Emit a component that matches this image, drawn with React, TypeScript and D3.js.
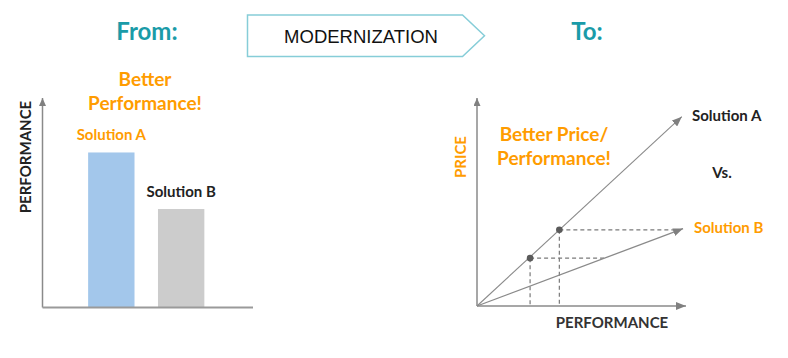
import React from "react";
import * as d3 from "d3";

// ---------- data ----------
const barCategories = ["Solution A", "Solution B"];
const barValues = [74, 47];
const barColors = ["#a3c7eb", "#cccccc"];
const barLabelColors = ["#ff9c00", "#222222"];

const lineA = [
  { perf: 0, price: 0 },
  { perf: 98, price: 91 },
];
const lineB = [
  { perf: 0, price: 0 },
  { perf: 98.6, price: 37.2 },
];
const markPoints = [
  { perf: 25.4, price: 23, reachB: 61 },
  { perf: 39.4, price: 36.6, reachB: 97 },
];

const ORANGE = "#ff9c00";
const TEAL = "#1a9ba8";
const DARK = "#222222";
const LATO = "Lato, 'Noto Sans', sans-serif";

export default function App() {
  // left bar chart
  const lx0 = 42.5, lx1 = 253, ly0 = 307.5, lyTop = 98;
  const xBand = d3
    .scaleBand<string>()
    .domain(barCategories)
    .range([lx0, lx1])
    .paddingInner(0.336)
    .paddingOuter(0.675)
    .align(0.484);
  const yBar = d3.scaleLinear().domain([0, 100]).range([ly0, lyTop]);

  // right line chart
  const rx = d3.scaleLinear().domain([0, 100]).range([477, 686]);
  const ry = d3.scaleLinear().domain([0, 100]).range([306, 98]);
  const line = d3
    .line<{ perf: number; price: number }>()
    .x((d) => rx(d.perf))
    .y((d) => ry(d.price));

  return (
    <svg
      width={788}
      height={358}
      style={{ position: "absolute", left: 0, top: 0, background: "#fff" }}
    >
      <defs>
        <marker
          id="arr"
          markerUnits="userSpaceOnUse"
          markerWidth={11}
          markerHeight={8}
          refX={10}
          refY={4}
          orient="auto"
        >
          <path d="M0,0 L10,4 L0,8 Z" fill="#808080" />
        </marker>
        <marker
          id="arrSmall"
          markerUnits="userSpaceOnUse"
          markerWidth={9}
          markerHeight={7}
          refX={8}
          refY={3.5}
          orient="auto"
        >
          <path d="M0,0 L8,3.5 L0,7 Z" fill="#808080" />
        </marker>
      </defs>

      {/* Titles */}
      <text x={147} y={40} textAnchor="middle" fontFamily={LATO} fontWeight={700} fontSize={24} fill={TEAL}>
        From:
      </text>
      <text x={587} y={40} textAnchor="middle" fontFamily={LATO} fontWeight={700} fontSize={24} fill={TEAL}>
        To:
      </text>

      {/* Modernization arrow box */}
      <path
        d="M247.5,15 L462.5,15 L484.5,35.8 L462.5,56.5 L247.5,56.5 Z"
        fill="#fff"
        stroke="#86cdd8"
        strokeWidth={1.5}
      />
      <text
        x={361}
        y={42.5}
        textAnchor="middle"
        fontFamily="'Liberation Sans', Arial, sans-serif"
        fontSize={18.5}
        fill="#111"
      >
        MODERNIZATION
      </text>

      {/* ---------- Left chart ---------- */}
      <text textAnchor="middle" fontFamily={LATO} fontWeight={700} fontSize={19} fill={ORANGE}>
        <tspan x={145} y={86}>Better</tspan>
        <tspan x={145} y={110}>Performance!</tspan>
      </text>

      {barCategories.map((c, i) => (
        <g key={c}>
          <rect
            x={xBand(c)}
            y={yBar(barValues[i])}
            width={xBand.bandwidth()}
            height={ly0 - yBar(barValues[i])}
            fill={barColors[i]}
          />
          <text
            x={(xBand(c) as number) + xBand.bandwidth() / 2}
            y={yBar(barValues[i]) - 12}
            textAnchor="middle"
            fontFamily={LATO}
            fontWeight={700}
            fontSize={15}
            fill={barLabelColors[i]}
          >
            {c}
          </text>
        </g>
      ))}

      <line x1={lx0} y1={ly0} x2={lx0} y2={lyTop} stroke="#8a8a8a" strokeWidth={1.5} markerEnd="url(#arrSmall)" />
      <line x1={lx0} y1={ly0} x2={lx1} y2={ly0} stroke="#9a9a9a" strokeWidth={1.8} />
      <text
        transform={`translate(31,157) rotate(-90)`}
        textAnchor="middle"
        fontFamily={LATO}
        fontWeight={700}
        fontSize={15}
        fill={DARK}
      >
        PERFORMANCE
      </text>

      {/* ---------- Right chart ---------- */}
      <text textAnchor="middle" fontFamily={LATO} fontWeight={700} fontSize={19} fill={ORANGE}>
        <tspan x={554} y={141}>Better Price/</tspan>
        <tspan x={554} y={165}>Performance!</tspan>
      </text>
      <text
        transform={`translate(465.5,157) rotate(-90)`}
        textAnchor="middle"
        fontFamily={LATO}
        fontWeight={700}
        fontSize={15}
        fill={ORANGE}
      >
        PRICE
      </text>
      <text x={612} y={328} textAnchor="middle" fontFamily={LATO} fontWeight={700} fontSize={15} fill="#333">
        PERFORMANCE
      </text>

      {/* dashed guides */}
      {markPoints.map((p, i) => (
        <g key={"d" + i} stroke="#7a7a7a" strokeWidth={1.2} strokeDasharray="4,3" fill="none">
          <line x1={rx(p.perf)} y1={ry(p.price)} x2={rx(p.perf)} y2={ry(0)} />
          <line x1={rx(p.perf)} y1={ry(p.price)} x2={rx(p.reachB)} y2={ry(p.price)} />
        </g>
      ))}

      {/* axes */}
      <line x1={rx(0)} y1={ry(0)} x2={rx(0)} y2={ry(100)} stroke="#8a8a8a" strokeWidth={1.5} markerEnd="url(#arrSmall)" />
      <line x1={rx(0)} y1={ry(0)} x2={rx(100)} y2={ry(0)} stroke="#8a8a8a" strokeWidth={1.5} markerEnd="url(#arr)" />

      {/* solution lines */}
      <path d={line(lineA) as string} stroke="#8a8a8a" strokeWidth={1.1} fill="none" markerEnd="url(#arr)" />
      <path d={line(lineB) as string} stroke="#8a8a8a" strokeWidth={1.3} fill="none" markerEnd="url(#arr)" />

      {markPoints.map((p, i) => (
        <circle key={"p" + i} cx={rx(p.perf)} cy={ry(p.price)} r={3.3} fill="#5a5a5a" />
      ))}

      <text x={692} y={121} fontFamily={LATO} fontWeight={700} fontSize={15} fill={DARK}>
        Solution A
      </text>
      <text x={722} y={178} textAnchor="middle" fontFamily={LATO} fontWeight={700} fontSize={15} fill={DARK}>
        Vs.
      </text>
      <text x={694} y={233} fontFamily={LATO} fontWeight={700} fontSize={15} fill={ORANGE}>
        Solution B
      </text>
    </svg>
  );
}
